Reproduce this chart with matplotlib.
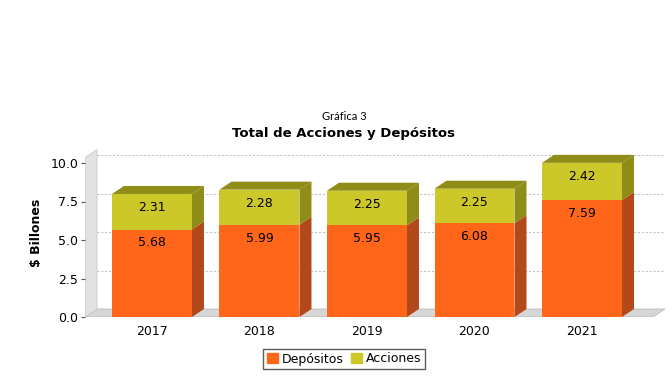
import matplotlib
matplotlib.use('Agg')
import matplotlib.pyplot as plt
from matplotlib.patches import Polygon, Patch

years = ['2017', '2018', '2019', '2020', '2021']
depositos = [5.68, 5.99, 5.95, 6.08, 7.59]
acciones = [2.31, 2.28, 2.25, 2.25, 2.42]

orange = '#FF661A'
orange_dark = '#B3481A'
yellow = '#CCC82A'
yellow_dark = '#8F8C17'

fig = plt.figure(figsize=(6.72, 3.90), dpi=100)
ax = fig.add_axes([85 / 672, 73 / 390, 580 / 672, 169 / 390])

xmin, xmax = -0.623, 4.772
ymax = 169 / 15.4
ax.set_xlim(xmin, xmax)
ax.set_ylim(0, ymax)

# 3d depth offsets (data units)
dx = 12 / 107.5
dy = 8 / 15.4
w = 0.744

# floor and left wall
ax.add_patch(Polygon([(xmin, 0), (xmin + dx, dy), (xmax, dy), (xmax - dx, 0)],
                     closed=True, fc='#D6D6D6', ec='#BBBBBB', lw=0.6, zorder=1))
ax.add_patch(Polygon([(xmin, 0), (xmin, 10.35), (xmin + dx, 10.35 + dy), (xmin + dx, dy)],
                     closed=True, fc='#E2E2E2', ec='#C8C8C8', lw=0.6, zorder=1))

# gridlines on back wall
for t in [2.5, 5.0, 7.5, 10.0]:
    ax.plot([xmin + dx, xmax], [t + dy, t + dy], ls=(0, (2, 2)), color='#BBBBBB', lw=0.7, zorder=1)

x = list(range(len(years)))
ax.bar(x, depositos, width=w, color=orange, zorder=3)
ax.bar(x, acciones, width=w, bottom=depositos, color=yellow, zorder=3)

for i in x:
    r = i + w / 2
    l = i - w / 2
    d = depositos[i]
    tot = d + acciones[i]
    ax.add_patch(Polygon([(r, 0), (r + dx, dy), (r + dx, d + dy), (r, d)],
                         closed=True, fc=orange_dark, ec='none', zorder=3))
    ax.add_patch(Polygon([(r, d), (r + dx, d + dy), (r + dx, tot + dy), (r, tot)],
                         closed=True, fc=yellow_dark, ec='none', zorder=3))
    ax.add_patch(Polygon([(l, tot), (l + dx, tot + dy), (r + dx, tot + dy), (r, tot)],
                         closed=True, fc=yellow_dark, ec='none', zorder=3))
    ax.annotate(f'{d:.2f}', (i, d), xytext=(0, -5), textcoords='offset points',
                ha='center', va='top', fontsize=9, zorder=4)
    ax.annotate(f'{acciones[i]:.2f}', (i, tot), xytext=(0, -5), textcoords='offset points',
                ha='center', va='top', fontsize=9, zorder=4)

for s in ax.spines.values():
    s.set_visible(False)

ax.set_yticks([0, 2.5, 5.0, 7.5, 10.0])
ax.set_yticklabels(['0.0', '2.5', '5.0', '7.5', '10.0'])
ax.set_xticks(x)
ax.set_xticklabels(years)
ax.tick_params(axis='y', length=3, width=0.8, color='#555555', labelsize=9, pad=2)
ax.tick_params(axis='x', length=0, labelsize=9, pad=6)
ax.set_ylabel('$ Billones', fontsize=9, fontweight='bold', labelpad=5)

fig.text(344 / 672, 1 - 117 / 390, 'Gráfica 3', ha='center', va='center', fontsize=8, family='Lato')
fig.text(344 / 672, 1 - 134 / 390, 'Total de Acciones y Depósitos', ha='center', va='center',
         fontsize=9.5, fontweight='bold')

handles = [Patch(color=orange, label='Depósitos'), Patch(color=yellow, label='Acciones')]
fig.legend(handles=handles, loc='center', bbox_to_anchor=(344 / 672, 1 - 359 / 390), ncol=2,
           fontsize=9, frameon=True, fancybox=False, edgecolor='#333333',
           handlelength=0.9, handleheight=0.9, handletextpad=0.3, columnspacing=0.6,
           borderpad=0.3, borderaxespad=0)

fig.savefig('out.png', dpi=100, facecolor='white')
